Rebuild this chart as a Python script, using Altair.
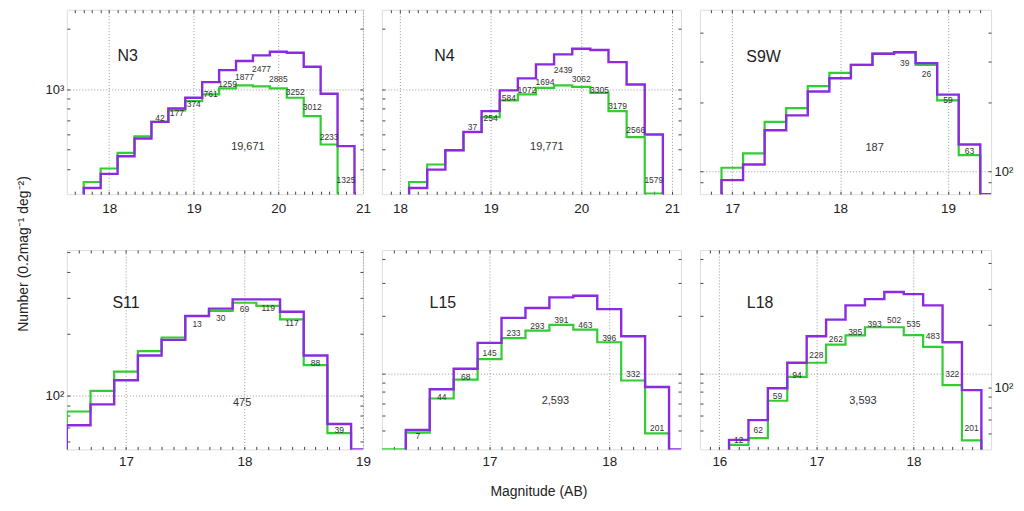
import altair as alt
import numpy as np
import pandas as pd

# ---------------- data ----------------
# N3
n3_edges = [17.7, 17.9, 18.1, 18.3, 18.5, 18.7, 18.9, 19.1, 19.3, 19.5, 19.7, 19.9, 20.1, 20.3, 20.5, 20.7, 20.9]
n3_purple = [322, 379, 464, 569, 689, 803, 909, 1088, 1249, 1386, 1479, 1543, 1525, 1298, 951, 521]
n3_green = [345, 403, 482, 584, 689, 785, 874, 944, 1012, 1047, 1035, 1012, 909, 736, 531, None]
n3_labels = [None, None, None, None, "42", "177", "374", "761", "1259", "1877", "2477", "2885", "3252", "3012", "2233", "1325"]
n3_label_y = [None, None, None, None, 722, 764, 848, 951, 1059, 1152, 1259, 1122, 973, 816, 578, 355]

# N4
n4_edges = [18.1, 18.3, 18.5, 18.7, 18.9, 19.1, 19.3, 19.5, 19.7, 19.9, 20.1, 20.3, 20.5, 20.7, 20.9]
n4_purple = [322, 398, 497, 614, 779, 989, 1135, 1334, 1496, 1597, 1573, 1369, 1059, 596]
n4_green = [345, 422, 497, 612, 727, 881, 944, 1019, 1047, 1031, 962, 779, 578, 302]
n4_labels = [None, None, None, "37", "254", "584", "1072", "1694", "2439", "3062", "3305", "3179", "2566", "1579"]
n4_label_y = [None, None, None, 648, 716, 909, 992, 1088, 1249, 1122, 989, 825, 624, 355]

# S9W
s9w_edges = [16.9, 17.1, 17.3, 17.5, 17.7, 17.9, 18.1, 18.3, 18.5, 18.7, 18.9, 19.1, 19.3, 19.5]
s9w_purple = [92, 107.5, 151, 175, 222, 253, 289, 323, 328, 294, 215, 131, 80]
s9w_green = [104, 120, 164, 188, 234, 267, 289, 323, 326, 289, 203, 118, None]
s9w_labels = [None, None, None, None, None, None, None, None, "39", "26", "59", "63", None]
s9w_label_y = [None, None, None, None, None, None, None, None, 295, 265, 203, 123, None]

# S11
s11_edges = [16.5, 16.7, 16.9, 17.1, 17.3, 17.5, 17.7, 17.9, 18.1, 18.3, 18.5, 18.7, 18.9, 19.1]
s11_purple = [72, 91, 119, 157, 187, 244, 265, 294, 294, 256, 157, 73, 55]
s11_green = [84, 105.7, 131, 165, 192, 244, 258, 283, 273, 235, 141, 66, None]
s11_labels = [None, None, None, None, None, "13", "30", "69", "119", "117", "88", "39", None]
s11_label_y = [None, None, None, None, None, 224, 238, 263, 267, 226, 144, 68, None]

# L15
l15_edges = [16.1, 16.3, 16.5, 16.7, 16.9, 17.1, 17.3, 17.5, 17.7, 17.9, 18.1, 18.3, 18.5, 18.7]
l15_purple = [None, 50.6, 82.8, 106, 145, 196, 221, 251, 256, 218, 157, 85, 40]
l15_green = [40, 49, 74, 93, 119, 153.5, 168, 180, 170, 146, 92, 48.6, None]
l15_labels = [None, "7", "44", "68", "145", "233", "293", "391", "463", "396", "332", "201", None]
l15_label_y = [None, 46.8, 75.5, 96, 128.6, 163.6, 178.7, 190, 180, 154, 99, 51.7, None]

# L18
l18_edges = [16.1, 16.3, 16.5, 16.7, 16.9, 17.1, 17.3, 17.5, 17.7, 17.9, 18.1, 18.3, 18.5, 18.7]
l18_purple = [44.9, 57, 83.8, 114, 157, 192, 228, 246, 268, 261, 228, 146, 81.9]
l18_green = [42.3, 45.8, 72, 96, 114, 142, 158.5, 175, 175, 159, 138, 87, 44.6]
l18_labels = ["12", "62", "59", "94", "228", "262", "385", "393", "502", "535", "483", "322", "201"]
l18_label_y = [44.9, 50.6, 76.5, 98.4, 124.7, 152, 165, 181, 190, 181, 157, 100, 51.7]

# panel names, totals and their anchor points (data units)
names = ["N3", "N4", "S9W", "S11", "L15", "L18"]
name_x = [18.22, 18.49, 17.29, 17.0, 16.61, 16.42]
name_y = [1468, 1468, 312, 283, 234, 234]
totals = ["19,671", "19,771", "187", "475", "2,593", "3,593"]
total_x = [19.64, 19.62, 18.32, 17.98, 17.55, 17.48]
total_y = [517, 517, 126, 92, 72, 72]

# axis domains
x_domains = [[17.5, 21.0], [17.8, 21.1], [16.7, 19.4], [16.5, 19.0], [16.1, 18.6], [15.8, 18.8]]
y_domains = [[300, 2500], [300, 2500], [80, 500], [55, 510], [40, 445], [40, 445]]
yr_domains = [[300, 2500], [300, 2500], [80, 500], [55, 510], [40, 445], [50, 460]]

PURPLE = "#8a2be2"
GREEN = "#33cc33"
FONT = "Liberation Sans"


def step_frame(edges, vals, floor):
    idx = [k for k, v in enumerate(vals) if v is not None]
    a, b = idx[0], idx[-1]
    xs_, ys_ = [edges[a]], [floor]
    for k in range(a, b + 1):
        xs_.append(edges[k])
        ys_.append(vals[k])
    xs_.append(edges[b + 1]); ys_.append(vals[b])
    xs_.append(edges[b + 1]); ys_.append(floor)
    return pd.DataFrame({"x": xs_, "y": ys_, "o": list(range(len(xs_)))})


def label_frame(edges, labels, label_y):
    rows = [((edges[k] + edges[k + 1]) / 2, label_y[k], labels[k])
            for k in range(len(labels)) if labels[k] is not None]
    return pd.DataFrame(rows, columns=["x", "y", "t"])


def minor_y(lo, hi):
    return [k * 10 ** d for d in range(0, 5) for k in range(1, 10) if lo < k * 10 ** d < hi]


def minor_x(lo, hi):
    a = int(np.ceil(lo * 10 + 1e-6)); b = int(np.floor(hi * 10 - 1e-6))
    return [round(i / 10, 1) for i in range(a, b + 1)]


def major_x(lo, hi):
    return list(range(int(np.ceil(lo - 1e-9)), int(np.floor(hi + 1e-9)) + 1))


def panel(i, edges, purple, green, labels, label_y, w, h, left_label=None,
          right_label=False, xtitle=None, lab_pad=8):
    xd, yd, yrd = x_domains[i], y_domains[i], yr_domains[i]
    xs = alt.Scale(domain=xd, nice=False, zero=False)
    ys = alt.Scale(type="log", domain=yd, nice=False)
    ysr = alt.Scale(type="log", domain=yrd, nice=False)
    decade = 1000 if yd[0] < 1000 < yd[1] else 100
    floor = yd[0] / 10.0

    pdf = step_frame(edges, purple, floor)
    gdf = step_frame(edges, green, floor)
    ldf = label_frame(edges, labels, label_y)
    ndf = pd.DataFrame({"x": [name_x[i]], "y": [name_y[i]], "t": [names[i]]})
    tdf = pd.DataFrame({"x": [total_x[i]], "y": [total_y[i]], "t": [totals[i]]})

    main_x = alt.Axis(values=major_x(*xd), format="d", grid=True, gridColor="#9a9a9a",
                      gridDash=[1, 2], gridWidth=1, ticks=False, domain=False,
                      labelFontSize=13.5, labelPadding=lab_pad, labelFlush=False,
                      labelColor="#222", titleFontSize=14, titleFontWeight="normal",
                      titlePadding=17, titleColor="#222", titleX=w / 2 + 7)
    if left_label:
        main_y = alt.Axis(orient="left", values=[decade], grid=True, gridColor="#9a9a9a",
                          gridDash=[1, 2], gridWidth=1, ticks=False, domain=False,
                          labelExpr="'" + left_label + "'", labelFontSize=13,
                          labelPadding=3, labelColor="#222")
    else:
        main_y = alt.Axis(orient="left", values=[decade], grid=True, gridColor="#9a9a9a",
                          gridDash=[1, 2], gridWidth=1, ticks=False, domain=False, labels=False)

    in_bottom = alt.Axis(orient="bottom", values=minor_x(*xd), offset=-3, tickSize=3,
                         labels=False, domain=False, grid=False, tickColor="#444")
    in_top = alt.Axis(orient="top", values=minor_x(*xd), offset=-3, tickSize=3,
                      labels=False, domain=False, grid=False, tickColor="#444")
    in_left = alt.Axis(orient="left", values=minor_y(*yd), offset=-3, tickSize=3,
                       labels=False, domain=False, grid=False, tickColor="#444")
    if right_label:
        in_right = alt.Axis(orient="right", values=minor_y(*yrd), offset=-3, tickSize=3,
                            domain=False, grid=False, tickColor="#444",
                            labelExpr="datum.value == 100 ? '10²' : ''",
                            labelFontSize=13, labelPadding=3, labelColor="#222")
    else:
        in_right = alt.Axis(orient="right", values=minor_y(*yrd), offset=-3, tickSize=3,
                            labels=False, domain=False, grid=False, tickColor="#444")

    if xtitle:
        xm = alt.X("x:Q", scale=xs, axis=main_x, title=xtitle)
    else:
        xm = alt.X("x:Q", scale=xs, axis=main_x, title=None)

    g = alt.Chart(gdf).mark_line(interpolate="step-after", color=GREEN, strokeWidth=2.2, clip=True).encode(
        x=xm, y=alt.Y("y:Q", scale=ys, axis=main_y, title=None), order="o:Q")
    p = alt.Chart(pdf).mark_line(interpolate="step-after", color=PURPLE, strokeWidth=2.4, clip=True).encode(
        x=alt.X("x:Q", scale=xs, axis=in_bottom, title=None),
        y=alt.Y("y:Q", scale=ys, axis=in_left, title=None), order="o:Q")
    d = alt.Chart(pdf).mark_line(opacity=0, clip=True).encode(
        x=alt.X("x:Q", scale=xs, axis=in_top, title=None),
        y=alt.Y("y:Q", scale=ysr, axis=in_right, title=None), order="o:Q")
    lt = alt.Chart(ldf).mark_text(fontSize=8.5, color="#333", font=FONT, align="center", baseline="middle").encode(
        x=alt.X("x:Q", scale=xs, axis=None), y=alt.Y("y:Q", scale=ys, axis=None), text="t:N")
    nt = alt.Chart(ndf).mark_text(fontSize=16, color="#222", font=FONT, align="center", baseline="middle").encode(
        x=alt.X("x:Q", scale=xs, axis=None), y=alt.Y("y:Q", scale=ys, axis=None), text="t:N")
    tt = alt.Chart(tdf).mark_text(fontSize=11, color="#333", font=FONT, align="center", baseline="middle").encode(
        x=alt.X("x:Q", scale=xs, axis=None), y=alt.Y("y:Q", scale=ys, axis=None), text="t:N")

    return (alt.layer(g, p, d, lt, nt, tt)
            .resolve_scale(y="independent")
            .resolve_axis(x="independent", y="independent")
            .properties(width=w, height=h))


p1 = panel(0, n3_edges, n3_purple, n3_green, n3_labels, n3_label_y, 297, 185, left_label="10³", lab_pad=7)
p2 = panel(1, n4_edges, n4_purple, n4_green, n4_labels, n4_label_y, 300, 185, lab_pad=7)
p3 = panel(2, s9w_edges, s9w_purple, s9w_green, s9w_labels, s9w_label_y, 292, 185, right_label=True, lab_pad=7)
p4 = panel(3, s11_edges, s11_purple, s11_green, s11_labels, s11_label_y, 297, 200, left_label="10²", lab_pad=5)
p5 = panel(4, l15_edges, l15_purple, l15_green, l15_labels, l15_label_y, 300, 200, xtitle="Magnitude (AB)", lab_pad=5)
p6 = panel(5, l18_edges, l18_purple, l18_green, l18_labels, l18_label_y, 292, 200, right_label=True, lab_pad=5)

chart = (alt.concat(p1, p2, p3, p4, p5, p6, columns=3, bounds="flush",
                    spacing={"row": 56, "column": 19})
         .properties(title=alt.TitleParams(text="Number (0.2mag⁻¹ deg⁻²)", orient="left", anchor="middle",
                                           fontSize=14, fontWeight="normal", font=FONT, color="#222", offset=14),
                     padding={"left": 8, "top": 0, "right": 2, "bottom": 0})
         .configure_view(stroke="#555555", strokeWidth=1.6)
         .configure_axis(labelFont=FONT, titleFont=FONT)
         .configure_text(font=FONT)
         .configure(background="white"))

chart.save("out.html", embed_options={"renderer": "svg", "actions": False})
